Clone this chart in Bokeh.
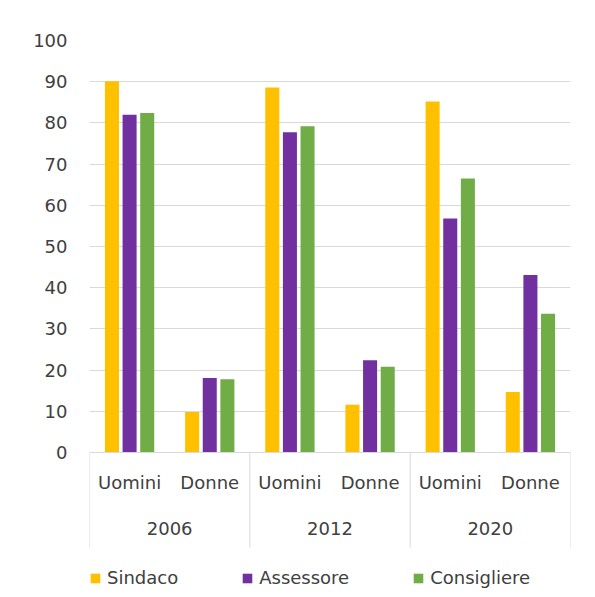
from bokeh.plotting import figure
from bokeh.models import (FactorRange, ColumnDataSource, Legend, LegendItem,
                          FixedTicker, Range1d, CategoricalAxis)
from bokeh.transform import dodge
from bokeh.embed import file_html
from bokeh.resources import INLINE

years = ["2006", "2012", "2020"]
genders = ["Uomini", "Donne"]
series_names = ["Sindaco", "Assessore", "Consigliere"]
sindaco = [90.1, 9.8, 88.6, 11.6, 85.2, 14.7]
assessore = [82.0, 18.1, 77.7, 22.4, 56.8, 43.1]
consigliere = [82.4, 17.8, 79.2, 20.8, 66.5, 33.7]
y_ticks = [0, 10, 20, 30, 40, 50, 60, 70, 80, 90, 100]

colors = ["#FFC000", "#7030A0", "#70AD47"]
FONT = "DejaVu Sans"
TXT = "#404040"
GRID = "#D9D9D9"
FS = "18px"
BAND = -23.1   # depth of the category-label band below 0 (in value units)

factors = [(y, g) for y in years for g in genders]
source = ColumnDataSource(dict(x=factors, Sindaco=sindaco,
                               Assessore=assessore, Consigliere=consigliere))

# the frame reaches down over the category labels and the legend
p = figure(width=595, height=597, output_backend="svg", toolbar_location=None,
           x_range=FactorRange(*factors, factor_padding=0, group_padding=0,
                               subgroup_padding=0, range_padding=0),
           y_range=Range1d(-33.5, 100), x_axis_location=None)
p.min_border_left = 89
p.min_border_right = 25
p.min_border_top = 40
p.min_border_bottom = 7
p.outline_line_color = None
p.background_fill_color = "white"
p.border_fill_color = "white"

renderers = []
offsets = [-0.22, 0.0, 0.22]
for name, col, off in zip(series_names, colors, offsets):
    r = p.vbar(x=dodge("x", off, range=p.x_range), top=name, width=0.175,
               source=source, fill_color=col, line_color=None)
    renderers.append(r)

# separators of the category band (left of each year, and right of the last)
first_of_year = [(y, genders[0]) for y in years]
p.segment(x0=dodge("x", -0.5, range=p.x_range), x1=dodge("x", -0.5, range=p.x_range),
          y0=0, y1=BAND, source=ColumnDataSource(dict(x=first_of_year)),
          line_color=GRID, line_width=1)
p.segment(x0=dodge("x", 0.5, range=p.x_range), x1=dodge("x", 0.5, range=p.x_range),
          y0=0, y1=BAND, source=ColumnDataSource(dict(x=[factors[-1]])),
          line_color=GRID, line_width=1)

# y axis
p.yaxis.ticker = FixedTicker(ticks=y_ticks)
p.yaxis.axis_line_color = None
p.yaxis.major_tick_line_color = None
p.yaxis.minor_tick_line_color = None
p.yaxis.major_label_text_font = FONT
p.yaxis.major_label_text_font_size = FS
p.yaxis.major_label_text_color = TXT
p.yaxis.major_label_standoff = 16

p.ygrid.ticker = FixedTicker(ticks=y_ticks)
p.ygrid.grid_line_color = GRID
p.xgrid.grid_line_color = None

# x axis, level 1 (Uomini / Donne) at value 0
xa = CategoricalAxis(fixed_location=0)
xa.axis_line_color = GRID
xa.major_tick_line_color = None
xa.minor_tick_line_color = None
xa.major_label_text_font = FONT
xa.major_label_text_font_size = FS
xa.major_label_text_color = TXT
xa.major_label_standoff = 14
xa.group_text_alpha = 0
xa.separator_line_color = None
p.add_layout(xa, "below")

# x axis, level 2 (years), drawn lower
xb = CategoricalAxis(fixed_location=-11.9)
xb.axis_line_color = None
xb.major_tick_line_color = None
xb.minor_tick_line_color = None
xb.major_label_text_font = FONT
xb.major_label_text_font_size = FS
xb.major_label_text_alpha = 0
xb.major_label_standoff = 14
xb.group_text_font = FONT
xb.group_text_font_size = FS
xb.group_text_color = TXT
xb.group_text_font_style = "normal"
xb.separator_line_color = None
p.add_layout(xb, "below")

legend = Legend(items=[LegendItem(label=n, renderers=[r]) for n, r in zip(series_names, renderers)],
                orientation="horizontal", location=(0, 2),
                glyph_width=12, glyph_height=12, label_standoff=6, spacing=63,
                padding=0, margin=0, border_line_color=None, background_fill_alpha=0,
                label_text_font=FONT, label_text_font_size=FS, label_text_color=TXT,
                label_height=12)
p.add_layout(legend, "center")

open("out.html", "w").write(file_html(p, INLINE))
